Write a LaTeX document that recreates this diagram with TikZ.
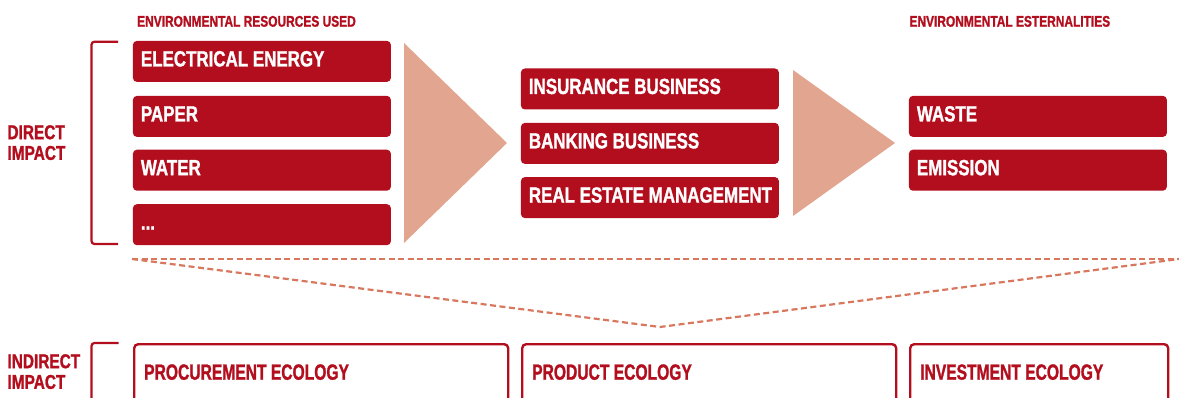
\documentclass[tikz,border=0pt]{standalone}
\usepackage{fontspec}
\newfontfamily\condfont[FakeStretch=0.77,FakeBold=1.2]{Liberation Sans}
\newfontfamily\ecofont[FakeStretch=0.71,FakeBold=1.2]{Liberation Sans}
\usetikzlibrary{shapes,arrows}
\definecolor{boxred}{HTML}{B20E1E}
\definecolor{arrowpink}{HTML}{E2A58F}
\definecolor{dashsalmon}{HTML}{D8775D}

\begin{document}
\begin{tikzpicture}[x=1pt,y=-1pt,
  res/.style={anchor=north west,rectangle,rounded corners=4pt,fill=boxred,text=white,
    font=\condfont\bfseries\fontsize{22}{24}\selectfont,text width=242pt,inner xsep=8pt,
    inner ysep=0pt,minimum height=41pt,text height=16pt,text depth=6pt,align=flush left},
  eco/.style={anchor=north west,rectangle,rounded corners=4pt,draw=boxred,line width=2.4pt,
    text=boxred,font=\ecofont\bfseries\fontsize{22}{24}\selectfont,inner xsep=10pt,
    inner ysep=0pt,minimum height=60pt,text height=16pt,text depth=5pt,align=flush left},
  head/.style={anchor=base west,inner sep=0pt,text=boxred,
    font=\condfont\bfseries\fontsize{15.5}{16}\selectfont},
  side/.style={anchor=north west,inner sep=0pt,align=left,text=boxred,
    font=\condfont\bfseries\fontsize{20}{20.7}\selectfont},
  flow/.style={fill=arrowpink},
  bracket/.style={draw=boxred,line width=2.2pt,rounded corners=3pt},
  dashline/.style={draw=dashsalmon,line width=2.2pt,dash pattern=on 6pt off 3.5pt}]
\useasboundingbox (0,0) rectangle (1179,398);
\clip (0,0) rectangle (1179,398);

\node[head] (used) at (137,26.7) {ENVIRONMENTAL RESOURCES USED};
\node[head] (ext) at (909.3,26.7) {ENVIRONMENTAL ESTERNALITIES};

\node[side] (direct) at (7.3,125) {DIRECT\\IMPACT};
\node[side] (indirect) at (7.3,354) {INDIRECT\\IMPACT};

\node[res] (energy) at (132.7,40.7) {ELECTRICAL ENERGY};
\node[res] (paper) at (132.7,95.7) {PAPER};
\node[res] (water) at (132.7,149.5) {WATER};
\node[res] (dots) at (132.7,204) {...};

\node[res] (insurance) at (520.7,68.3) {INSURANCE BUSINESS};
\node[res] (banking) at (520.7,122.7) {BANKING BUSINESS};
\node[res] (realestate) at (520.7,176.9) {\mbox{REAL ESTATE MANAGEMENT}};

\node[res] (waste) at (908.7,95.7) {WASTE};
\node[res] (emission) at (908.7,149.5) {EMISSION};

\fill[flow] (404,43) -- (507,143) -- (404,243) -- cycle;
\fill[flow] (793,70) -- (895,143) -- (793,216) -- cycle;

\draw[bracket] (118,41.7) -- (91.5,41.7) -- (91.5,244) -- (118,244);
\draw[bracket] (118.5,343) -- (91.5,343) -- (91.5,420);

\coordinate (dl) at (132,259);
\coordinate (dr) at (1179,259);
\coordinate (dv) at (660,327);
\draw[dashline] (dl) -- (dr);
\draw[dashline] (dl) -- (dv) -- (dr);

\node[eco,text width=354pt] (procurement) at (133,343) {PROCUREMENT ECOLOGY};
\node[eco,text width=354pt] (product) at (521,343) {PRODUCT ECOLOGY};
\node[eco,text width=238pt] (investment) at (909,343) {INVESTMENT ECOLOGY};
\end{tikzpicture}
\end{document}
